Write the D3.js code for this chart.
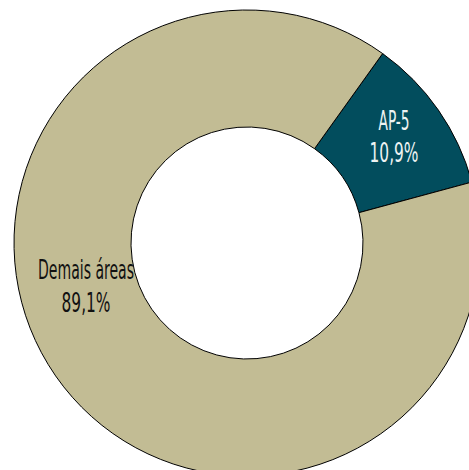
<!DOCTYPE html>
<html>
<head>
<meta charset="utf-8">
<script src="https://cdn.jsdelivr.net/npm/d3@7"></script>
<style>
html,body{margin:0;padding:0;background:#fff;overflow:hidden;}
svg{display:block;}
</style>
</head>
<body>
<svg id="chart" width="469" height="470"></svg>
<script>
const categories = ["AP-5", "Demais áreas"];
const values = [10.9, 89.1];
const valueLabels = ["10,9%", "89,1%"];
const colors = ["#024d5d", "#c2bc94"];

const svg = d3.select("#chart");
const cx = 247, cy = 243, R = 233, r = 116;
const startOffset = 35.6 * Math.PI / 180;

const pie = d3.pie().sort(null).value(d => d)
  .startAngle(startOffset).endAngle(startOffset + 2 * Math.PI);
const arcs = pie(values);
const arc = d3.arc().innerRadius(r).outerRadius(R);

const g = svg.append("g").attr("transform", `translate(${cx},${cy})`);
g.selectAll("path").data(arcs).enter().append("path")
  .attr("d", arc)
  .attr("fill", (d, i) => colors[i])
  .attr("stroke", "#000")
  .attr("stroke-width", 1);

const labelPos = [
  {x: 394, y1: 130, y2: 162, w1: 31, w2: 49, fill: "#eef3f3"},
  {x: 86, y1: 279, y2: 312, w1: 96, w2: 49, fill: "#111"}
];
const font = "'DejaVu Sans Condensed', 'Liberation Sans Narrow', sans-serif";
categories.forEach((c, i) => {
  const p = labelPos[i];
  svg.append("text").attr("x", p.x).attr("y", p.y1)
    .attr("text-anchor", "middle")
    .attr("font-family", font)
    .attr("font-size", 26)
    .attr("fill", p.fill)
    .attr("textLength", p.w1).attr("lengthAdjust", "spacingAndGlyphs")
    .text(c);
  svg.append("text").attr("x", p.x).attr("y", p.y2)
    .attr("text-anchor", "middle")
    .attr("font-family", font)
    .attr("font-size", 26)
    .attr("fill", p.fill)
    .attr("textLength", p.w2).attr("lengthAdjust", "spacingAndGlyphs")
    .text(valueLabels[i]);
});
</script>
</body>
</html>
